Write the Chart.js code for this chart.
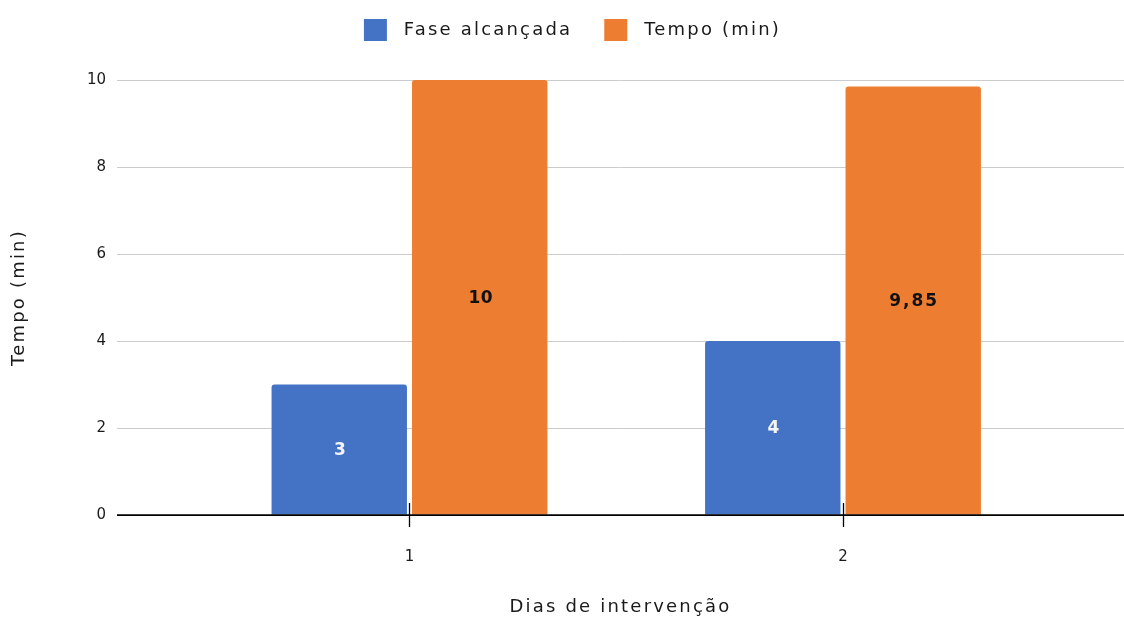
<!DOCTYPE html>
<html lang="pt-BR">
<head>
<meta charset="utf-8">
<title>Fase alcançada e Tempo (min) por dia de intervenção</title>
<script src="https://cdn.jsdelivr.net/npm/chart.js@4"></script>
<style>
  html, body { margin: 0; padding: 0; background: #ffffff; }
  #wrap { width: 1124px; height: 619px; position: relative; }
</style>
</head>
<body>
<div id="wrap"><canvas id="chart"></canvas></div>
<script>
// Days of intervention and the two measured series
const dias = [1, 2];
const faseAlcancada = [3, 4];
const tempoMin = [10, 9.85];
const yTickValues = [0, 2, 4, 6, 8, 10];
const seriesNames = ['Fase alcançada', 'Tempo (min)'];
const seriesColors = ['#4472C4', '#ED7D31'];
const valueLabelColors = ['#f4f4f4', '#111111'];
const xTitle = 'Dias de intervenção';
const yTitle = 'Tempo (min)';

const FONT = '"DejaVu Sans", Verdana, sans-serif';
const SPACING = '2.2px';

const fmt = v => String(v).replace('.', ',');

// Letter-spaced text for legend and axis titles; plain spacing for tick labels.
const spacingPlugin = {
  id: 'spacing',
  beforeLayout(chart) {
    chart.ctx.letterSpacing = SPACING;
    const lg = chart.legend;
    if (lg && !lg._tallFit) {
      const fit = lg.fit;
      lg.fit = function () {
        fit.call(this);
        this.height = 93;
      };
      lg._tallFit = true;
    }
  },
  beforeDraw(chart) {
    chart.ctx.letterSpacing = SPACING;
    Object.values(chart.scales).forEach(s => {
      if (s._plainLabels) return;
      const draw = s.drawLabels;
      s.drawLabels = function (area) {
        const c = this.ctx;
        const prev = c.letterSpacing;
        c.letterSpacing = '0px';
        draw.call(this, area);
        c.letterSpacing = prev;
      };
      s._plainLabels = true;
    });
  },
  afterDatasetsDraw(chart) {
    const ctx = chart.ctx;
    const x = chart.scales.x;
    const y = chart.scales.y;
    const base = y.getPixelForValue(0);
    ctx.save();
    ctx.letterSpacing = '0px';
    // baseline at zero
    ctx.strokeStyle = '#000000';
    ctx.lineWidth = 1.3;
    ctx.beginPath();
    ctx.moveTo(chart.chartArea.left, base);
    ctx.lineTo(chart.chartArea.right, base);
    ctx.stroke();
    // category tick marks crossing the baseline
    dias.forEach(d => {
      const px = Math.round(x.getPixelForValue(d)) + 0.5;
      ctx.beginPath();
      ctx.moveTo(px, base - 12);
      ctx.lineTo(px, base + 12);
      ctx.stroke();
    });
    // value labels in the middle of each bar
    ctx.font = 'bold 17px ' + FONT;
    ctx.textAlign = 'center';
    ctx.textBaseline = 'middle';
    chart.data.datasets.forEach((ds, di) => {
      const meta = chart.getDatasetMeta(di);
      ctx.fillStyle = valueLabelColors[di];
      meta.data.forEach((el, i) => {
        const v = ds.data[i].y;
        const txt = fmt(v);
        ctx.letterSpacing = txt.length > 2 ? '2px' : '0.5px';
        ctx.fillText(txt, el.x + 1, (el.y + el.base) / 2 + 1);
      });
    });
    ctx.restore();
  }
};

const makeData = vals => dias.map((d, i) => ({ x: d, y: vals[i] }));

new Chart(document.getElementById('chart'), {
  type: 'bar',
  data: {
    datasets: [
      {
        label: ' ' + seriesNames[0],
        data: makeData(faseAlcancada),
        backgroundColor: seriesColors[0],
        borderRadius: { topLeft: 3, topRight: 3 },
        borderSkipped: 'start'
      },
      {
        label: ' ' + seriesNames[1],
        data: makeData(tempoMin),
        backgroundColor: seriesColors[1],
        borderRadius: { topLeft: 3, topRight: 3 },
        borderSkipped: 'start'
      }
    ]
  },
  options: {
    responsive: true,
    maintainAspectRatio: false,
    animation: false,
    devicePixelRatio: 1,
    categoryPercentage: 0.648,
    barPercentage: 0.964,
    layout: { padding: { top: -13, left: 21, right: 0, bottom: 0 } },
    plugins: {
      legend: {
        position: 'top',
        align: 'center',
        labels: {
          boxWidth: 23,
          boxHeight: 22,
          padding: 32,
          color: '#1a1a1a',
          font: { family: FONT, size: 18 }
        }
      },
      tooltip: { enabled: false }
    },
    scales: {
      x: {
        type: 'linear',
        offset: false,
        min: 0.3253,
        max: 2.6482,
        afterBuildTicks: s => { s.ticks = dias.map(v => ({ value: v })); },
        afterFit: s => { s.height = 104; },
        grid: { display: false, offset: false },
        border: { display: false },
        ticks: {
          padding: 25,
          color: '#1a1a1a',
          font: { family: FONT, size: 15 },
          callback: v => String(v)
        },
        title: {
          display: true,
          text: xTitle,
          color: '#1a1a1a',
          font: { family: FONT, size: 18 },
          padding: { top: 0, bottom: 1 }
        }
      },
      y: {
        min: 0,
        max: 10,
        afterBuildTicks: s => { s.ticks = yTickValues.map(v => ({ value: v })); },
        afterFit: s => { s.width = 96; },
        grid: {
          drawTicks: false,
          color: c => (c.tick && c.tick.value === 0 ? '#000000' : '#cccccc'),
          lineWidth: 1
        },
        border: { display: false },
        ticks: {
          padding: 11,
          color: '#1a1a1a',
          font: { family: FONT, size: 15 },
          callback: v => fmt(v)
        },
        title: {
          display: true,
          text: yTitle,
          color: '#1a1a1a',
          font: { family: FONT, size: 18 },
          padding: { top: -12, bottom: 0 }
        }
      }
    }
  },
  plugins: [spacingPlugin]
});
</script>
</body>
</html>
